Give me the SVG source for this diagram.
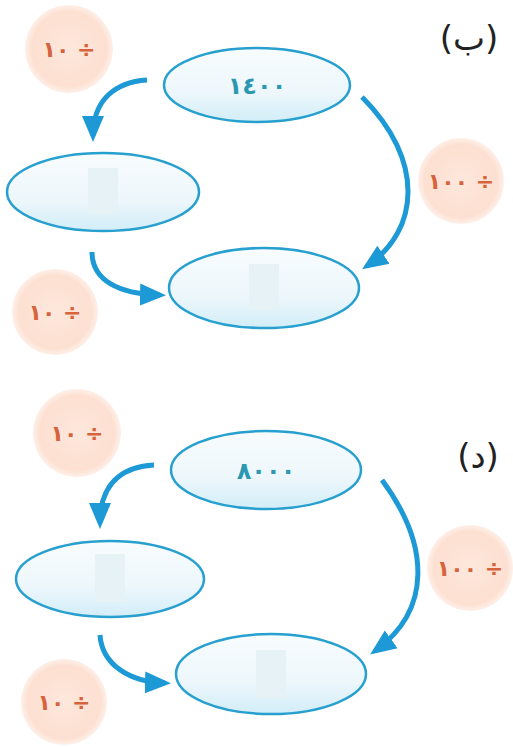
<svg xmlns="http://www.w3.org/2000/svg" width="513" height="747" viewBox="0 0 513 747">
<style>
.oval{fill:url(#ovalFill);stroke:#27a0cf;stroke-width:2.5}
.slot{fill:#e6f2f6;stroke:none}
.badge{fill:url(#badgeFill)}
.num{font-family:"DejaVu Sans","Noto Sans",sans-serif;font-weight:bold;font-size:24px;fill:#2b98b2;text-anchor:middle}
.op{font-family:"DejaVu Sans","Noto Sans",sans-serif;font-weight:bold;font-size:22px;fill:#d6633c;text-anchor:middle}
.tag{font-family:"DejaVu Sans","Noto Sans",sans-serif;font-size:34px;fill:#222;text-anchor:middle}
.arrow{fill:none;stroke:#1d9ad6;stroke-width:5;marker-end:url(#head)}
</style>
<defs>
<linearGradient id="ovalFill" x1="0" y1="0" x2="0" y2="1">
<stop offset="0" stop-color="#f8fcfe"/>
<stop offset="0.6" stop-color="#edf7fb"/>
<stop offset="1" stop-color="#d2edf8"/>
</linearGradient>
<radialGradient id="badgeFill" cx="0.5" cy="0.5" r="0.5">
<stop offset="0" stop-color="#fde7dc"/>
<stop offset="0.85" stop-color="#fde0d1"/>
<stop offset="1" stop-color="#fde8de" stop-opacity="0.7"/>
</radialGradient>
<marker id="head" markerUnits="userSpaceOnUse" markerWidth="26" markerHeight="26" viewBox="0 0 26 26" refX="20" refY="13" orient="auto">
<path d="M0,2 L26,13 L0,24 Z" fill="#1d9ad6"/>
</marker>
</defs>
<rect width="513" height="747" fill="#ffffff"/>

<text class="tag" x="469" y="50">(ب)</text>
<text class="tag" x="478" y="468">(د)</text>

<g id="badge-b1"><circle class="badge" cx="69" cy="49" r="44"/><text class="op" x="69" y="57">١٠ ÷</text></g>
<g id="badge-b2"><circle class="badge" cx="461" cy="181" r="43"/><text class="op" x="461" y="189">١٠٠ ÷</text></g>
<g id="badge-b3"><circle class="badge" cx="55" cy="312" r="43"/><text class="op" x="55" y="320">١٠ ÷</text></g>
<g id="badge-d1"><circle class="badge" cx="77" cy="433" r="44"/><text class="op" x="77" y="441">١٠ ÷</text></g>
<g id="badge-d2"><circle class="badge" cx="470" cy="568" r="43"/><text class="op" x="470" y="576">١٠٠ ÷</text></g>
<g id="badge-d3"><circle class="badge" cx="64" cy="702" r="43"/><text class="op" x="64" y="710">١٠ ÷</text></g>

<g id="node-b-top"><ellipse class="oval" cx="257" cy="85" rx="93" ry="37"/><text class="num" x="257" y="94">١٤٠٠</text></g>
<g id="node-b-left"><ellipse class="oval" cx="103" cy="192" rx="96" ry="39"/><rect class="slot" x="88" y="168" width="30" height="46"/></g>
<g id="node-b-bottom"><ellipse class="oval" cx="264" cy="288" rx="95" ry="40"/><rect class="slot" x="249" y="264" width="30" height="46"/></g>
<g id="node-d-top"><ellipse class="oval" cx="266" cy="470" rx="95" ry="39"/><text class="num" x="266" y="479">٨٠٠٠</text></g>
<g id="node-d-left"><ellipse class="oval" cx="110" cy="579" rx="94" ry="38"/><rect class="slot" x="95" y="554" width="30" height="48"/></g>
<g id="node-d-bottom"><ellipse class="oval" cx="271" cy="674" rx="95" ry="40"/><rect class="slot" x="256" y="650" width="30" height="48"/></g>

<g id="connectors">
<path class="arrow" d="M147,80 C115,82 93,100 93,136"/>
<path class="arrow" d="M92,252 C92,280 118,294 160,295"/>
<path class="arrow" d="M362,97 C425,160 420,230 367,266"/>
<path class="arrow" d="M154,465 C120,467 100,485 100,523"/>
<path class="arrow" d="M100,635 C102,665 130,682 165,683"/>
<path class="arrow" d="M382,480 C430,545 432,610 375,651"/>
</g>
</svg>
